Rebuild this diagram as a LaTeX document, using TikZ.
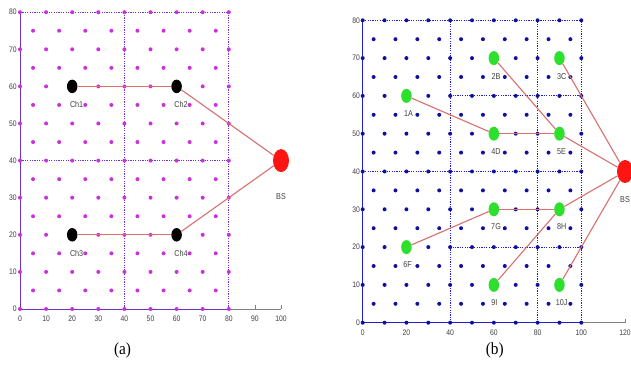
\documentclass[tikz,border=0pt]{standalone}
\usepackage{fontspec}
\setmainfont{Liberation Sans}
\newfontfamily\tickfont[FakeStretch=0.85]{Liberation Sans}
\newfontfamily\capfont[FakeStretch=0.9]{Liberation Serif}
\usetikzlibrary{shapes.geometric}
\definecolor{dotA}{HTML}{CC30DD}
\definecolor{lineA}{HTML}{7030D0}
\definecolor{dotB}{HTML}{1010A0}
\definecolor{lineB}{HTML}{2020D0}
\definecolor{linkc}{HTML}{D87070}
\definecolor{greennode}{HTML}{2EE02E}
\definecolor{rednode}{HTML}{FF1414}
\definecolor{txt}{HTML}{404040}
\tikzset{
  gridline/.style={line width=0.9pt, dash pattern=on 1.2pt off 1.2pt},
  chnode/.style={ellipse, fill=black, minimum width=10.5pt, minimum height=13.5pt, inner sep=0pt},
  gnode/.style={ellipse, fill=greennode, minimum width=10.5pt, minimum height=14pt, inner sep=0pt},
  bsnode/.style={ellipse, fill=rednode, minimum width=16pt, minimum height=23pt, inner sep=0pt},
  link/.style={linkc, line width=1.1pt},
  lbl/.style={text=txt, font=\tickfont\fontsize{8.5}{9}\selectfont, inner sep=0pt},
  ticklbl/.style={text=txt, font=\tickfont\fontsize{8}{9}\selectfont, inner sep=0pt},
  captext/.style={font=\capfont\fontsize{17}{19}\selectfont, inner sep=0pt}
}
\begin{document}
\begin{tikzpicture}[x=1pt,y=1pt]
\useasboundingbox (0,0) rectangle (631,364);
\fill[white] (0,0) rectangle (631,364);
% ---------------- panel (a) ----------------
\begin{scope}[shift={(20pt,55pt)}, x=2.61pt, y=3.71pt]
  \draw[gray, line width=0.7pt] (0,0) -- (100,0);
  \foreach \u in {90,100} \draw[gray, line width=0.6pt] (\u,0) -- (\u,1);
  \draw[lineA, line width=1pt] (0,0) -- (0,80);
  \draw[lineA, line width=1pt] (0,0) -- (80,0);
  \draw[lineA, gridline] (0,80) -- (80,80);
  \draw[lineA, gridline] (0,40) -- (80,40);
  \draw[lineA, gridline] (40,0) -- (40,80);
  \draw[lineA, gridline] (80,0) -- (80,80);
  \foreach \v in {5,15,...,75} \foreach \u in {5,15,...,75} \fill[dotA] (\u,\v) circle (2pt);
  \foreach \v in {0,10,...,80} \foreach \u in {0,10,...,80} \fill[dotA] (\u,\v) circle (2pt);
  \foreach \v in {0,10,...,80} \node[ticklbl, anchor=east] at (-1.2,\v) {\v};
  \foreach \u in {0,10,...,100} \node[ticklbl] at (\u,-2.6) {\u};
  \node[chnode] (ch1) at (20,60) {};
  \node[chnode] (ch2) at (60,60) {};
  \node[chnode] (ch3) at (20,20) {};
  \node[chnode] (ch4) at (60,20) {};
  \node[bsnode] (bsa) at (100,40) {};
  \draw[link] (ch1) -- (ch2);
  \draw[link] (ch2) -- (bsa);
  \draw[link] (ch3) -- (ch4);
  \draw[link] (ch4) -- (bsa);
  \node[lbl] (lch1) at (21.7,55) {Ch1};
  \node[lbl] (lch2) at (61.7,55) {Ch2};
  \node[lbl] (lch3) at (21.7,15) {Ch3};
  \node[lbl] (lch4) at (61.7,15) {Ch4};
  \node[lbl] (lbsa) at (100,30.3) {BS};
  \node[captext] (capa) at (39.3,-11.2) {(a)};
\end{scope}
% ---------------- panel (b) ----------------
\begin{scope}[shift={(362.7pt,41.3pt)}, x=2.186pt, y=3.78pt]
  \draw[gray, line width=0.7pt] (0,0) -- (120,0);
  \draw[gray, line width=0.6pt] (120,0) -- (120,1);
  \draw[lineB, line width=1pt] (0,0) -- (0,80);
  \draw[lineB, line width=1pt] (0,0) -- (100,0);
  \draw[lineB, gridline] (0,80) -- (100,80);
  \draw[lineB, gridline] (0,40) -- (100,40);
  \draw[lineB, gridline] (40,60) -- (100,60);
  \draw[lineB, gridline] (40,20) -- (100,20);
  \draw[lineB, gridline] (40,0) -- (40,80);
  \draw[lineB, gridline] (80,0) -- (80,80);
  \draw[lineB, gridline] (100,0) -- (100,80);
  \foreach \v in {5,15,...,75} \foreach \u in {5,15,...,95} \fill[dotB] (\u,\v) circle (2pt);
  \foreach \v in {0,10,...,80} \foreach \u in {0,10,...,100} \fill[dotB] (\u,\v) circle (2pt);
  \foreach \v in {0,10,...,80} \node[ticklbl, anchor=east] at (-1.2,\v) {\v};
  \foreach \u in {0,20,...,120} \node[ticklbl] at (\u,-2.6) {\u};
  \node[gnode] (n1) at (20,60) {};
  \node[gnode] (n2) at (60,70) {};
  \node[gnode] (n3) at (90,70) {};
  \node[gnode] (n4) at (60,50) {};
  \node[gnode] (n5) at (90,50) {};
  \node[gnode] (n6) at (20,20) {};
  \node[gnode] (n7) at (60,30) {};
  \node[gnode] (n8) at (90,30) {};
  \node[gnode] (n9) at (60,10) {};
  \node[gnode] (n10) at (90,10) {};
  \node[bsnode] (bsb) at (120,40) {};
  \draw[link] (n1) -- (n4);
  \draw[link] (n4) -- (n5);
  \draw[link] (n2) -- (n5);
  \draw[link] (n5) -- (bsb);
  \draw[link] (n3) -- (bsb);
  \draw[link] (n6) -- (n7);
  \draw[link] (n7) -- (n8);
  \draw[link] (n9) -- (n8);
  \draw[link] (n8) -- (bsb);
  \draw[link] (n10) -- (bsb);
  \node[lbl] (l1) at (21,55.3) {1A};
  \node[lbl] (l2) at (61,65) {2B};
  \node[lbl] (l3) at (91,65) {3C};
  \node[lbl] (l4) at (61,45.3) {4D};
  \node[lbl] (l5) at (91,45.3) {5E};
  \node[lbl] (l6) at (20.5,15.3) {6F};
  \node[lbl] (l7) at (61,25.3) {7G};
  \node[lbl] (l8) at (91,25.3) {8H};
  \node[lbl] (l9) at (60.2,5.2) {9I};
  \node[lbl] (l10) at (91,5.2) {10J};
  \node[lbl] (lbsb) at (120,32.5) {BS};
  \node[captext] (capb) at (60.4,-7.4) {(b)};
\end{scope}
\end{tikzpicture}
\end{document}
